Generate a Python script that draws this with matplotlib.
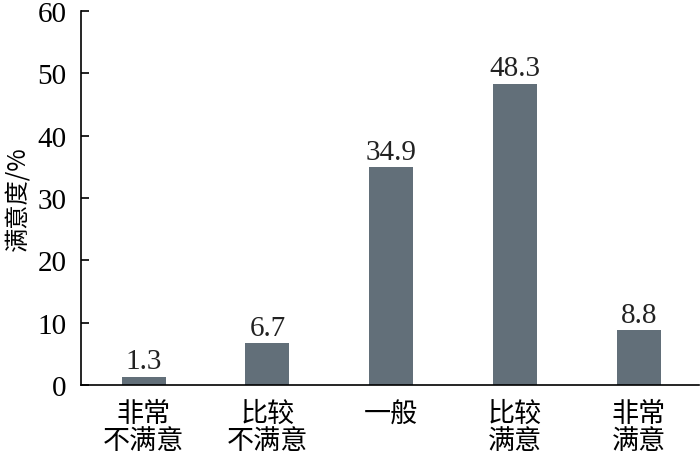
import matplotlib.pyplot as plt

plt.rcParams['font.family'] = ['Liberation Serif', 'Noto Sans CJK SC', 'DejaVu Sans']

categories = ['非常\n不满意', '比较\n不满意', '一般', '比较\n满意', '非常\n满意']
values = [1.3, 6.7, 34.9, 48.3, 8.8]
labels = ['1.3', '6.7', '34.9', '48.3', '8.8']

fig = plt.figure(figsize=(7, 4.6), dpi=100)
ax = fig.add_axes([0.115, 0.161, 0.884, 0.813])

x = range(len(values))
bars = ax.bar(x, values, width=0.355, color='#626f79')

for b, t in zip(bars, labels):
    ax.text(b.get_x() + b.get_width() / 2, b.get_height() + 0.4, t,
            ha='center', va='bottom', fontsize=21, color='#222222')

ax.set_xlim(-0.51, 4.49)
ax.set_ylim(0, 60)
ax.set_yticks([0, 10, 20, 30, 40, 50, 60])
ax.set_xticks(list(x))
ax.set_xticklabels(categories, fontsize=19.5, linespacing=1.0,
                   family=['Noto Sans CJK SC', 'DejaVu Sans'])
ax.tick_params(axis='x', length=0, pad=11)
ax.tick_params(axis='y', direction='in', length=6, width=1.2, labelsize=21, pad=10)
for lab in ax.get_yticklabels():
    lab.set_family(['Liberation Serif'])

ax.spines['top'].set_visible(False)
ax.spines['right'].set_visible(False)
ax.spines['left'].set_linewidth(1.2)
ax.spines['bottom'].set_linewidth(1.2)

ax.set_ylabel('满意度/%', fontsize=17.5, labelpad=4,
              family=['Noto Sans CJK SC', 'Liberation Serif'])

fig.savefig('out.png', dpi=100)
